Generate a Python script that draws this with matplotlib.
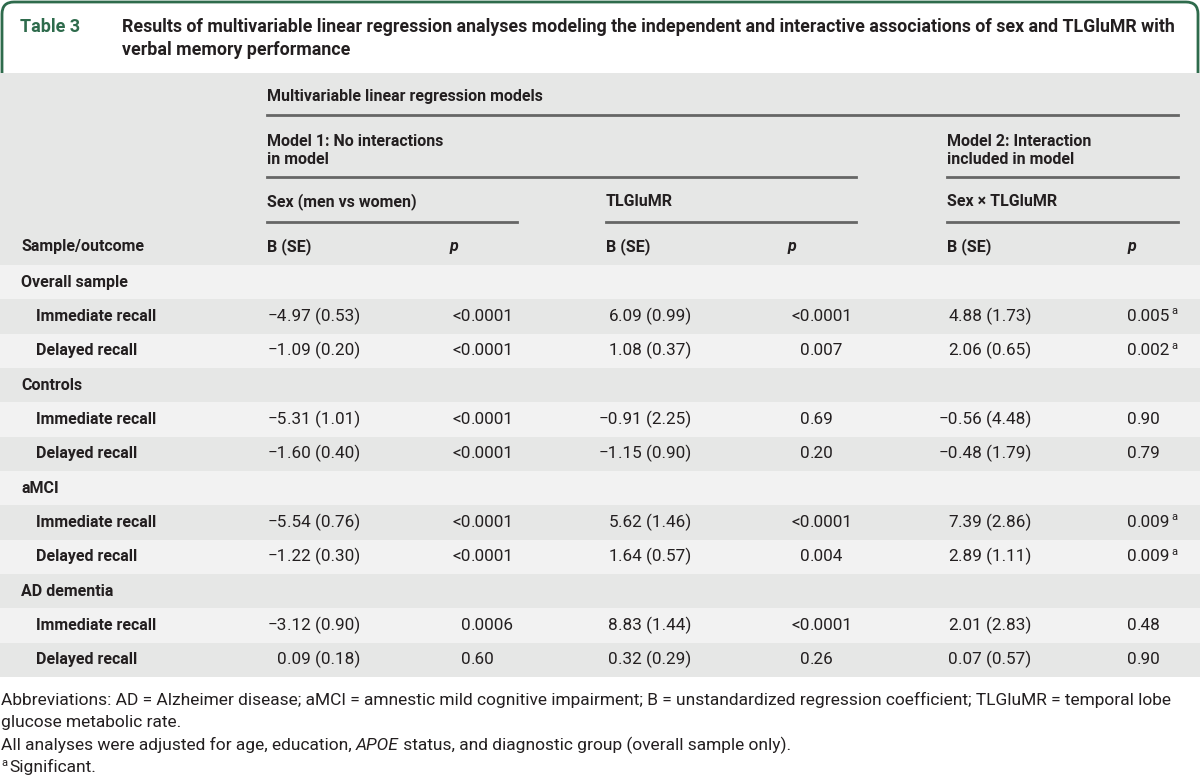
import matplotlib
matplotlib.use("Agg")
import matplotlib.pyplot as plt
from matplotlib.patches import Rectangle, FancyBboxPatch

plt.rcParams['font.family'] = ['Roboto', 'DejaVu Sans']

# ---- data ----
title_num = "Table 3"
title_lines = ["Results of multivariable linear regression analyses modeling the independent and interactive associations of sex and TLGluMR with",
               "verbal memory performance"]

row_labels = ["Overall sample", "Immediate recall", "Delayed recall",
              "Controls", "Immediate recall", "Delayed recall",
              "aMCI", "Immediate recall", "Delayed recall",
              "AD dementia", "Immediate recall", "Delayed recall"]
is_group = [True, False, False] * 4

sex_b = ["", "\u22124.97 (0.53)", "\u22121.09 (0.20)", "", "\u22125.31 (1.01)", "\u22121.60 (0.40)",
         "", "\u22125.54 (0.76)", "\u22121.22 (0.30)", "", "\u22123.12 (0.90)", "0.09 (0.18)"]
sex_p = ["", "<0.0001", "<0.0001", "", "<0.0001", "<0.0001",
         "", "<0.0001", "<0.0001", "", "0.0006", "0.60"]
tl_b = ["", "6.09 (0.99)", "1.08 (0.37)", "", "\u22120.91 (2.25)", "\u22121.15 (0.90)",
        "", "5.62 (1.46)", "1.64 (0.57)", "", "8.83 (1.44)", "0.32 (0.29)"]
tl_p = ["", "<0.0001", "0.007", "", "0.69", "0.20",
        "", "<0.0001", "0.004", "", "<0.0001", "0.26"]
int_b = ["", "4.88 (1.73)", "2.06 (0.65)", "", "\u22120.56 (4.48)", "\u22120.48 (1.79)",
         "", "7.39 (2.86)", "2.89 (1.11)", "", "2.01 (2.83)", "0.07 (0.57)"]
int_p = ["", "0.005", "0.002", "", "0.90", "0.79",
         "", "0.009", "0.009", "", "0.48", "0.90"]
int_sig = [False, True, True, False, False, False, False, True, True, False, False, False]

foot1 = "Abbreviations: AD = Alzheimer disease; aMCI = amnestic mild cognitive impairment; B = unstandardized regression coefficient; TLGluMR = temporal lobe"
foot2 = "glucose metabolic rate."
foot3 = [("All analyses were adjusted for age, education, ", "normal"), ("APOE", "italic"),
         (" status, and diagnostic group (overall sample only).", "normal")]
foot4 = "Significant."

# ---- layout ----
W, H = 1200, 782
fig = plt.figure(figsize=(12, 7.82), dpi=100)
ax = fig.add_axes([0, 0, 1, 1])
ax.set_xlim(0, W)
ax.set_ylim(H, 0)
ax.axis("off")

green = "#2e6b4c"
txt = "#231f20"
hdr_bg = "#e6e7e6"
light_bg = "#f2f2f2"
rule = "#666666"
fs_lab = 11.5   # labels / headers
fs_num = 12.3   # numbers
fs_foot = 12.55

# title box
ax.add_patch(FancyBboxPatch((2, 2), W - 4, 110, boxstyle="round,pad=0,rounding_size=12",
                            fc="white", ec=green, lw=2, zorder=1))
ax.text(20, 27, title_num, color=green, fontsize=13, fontweight="semibold", va="center")
for i, line in enumerate(title_lines):
    ax.text(122, 27 + 23 * i, line, color=txt, fontsize=12.8, fontweight="bold", va="center")

# table background
top, hdr_bot, row_h = 73, 265, 34.33
ax.add_patch(Rectangle((0, top), W, hdr_bot - top, fc=hdr_bg, ec="none", zorder=2))
for i in range(len(row_labels)):
    c = light_bg if i % 2 == 0 else hdr_bg
    ax.add_patch(Rectangle((0, hdr_bot + i * row_h), W, row_h, fc=c, ec="none", zorder=2))

# header texts
hw = "semibold"
ax.text(267, 97, "Multivariable linear regression models", fontsize=fs_lab, fontweight=hw, color=txt, va="center", zorder=3)
ax.plot([267, 1178], [115, 115], color=rule, lw=2, zorder=3)
ax.text(267, 150.5, "Model 1: No interactions\nin model", fontsize=fs_lab, fontweight=hw, color=txt,
        va="center", linespacing=1.3, zorder=3)
ax.text(947, 150.5, "Model 2: Interaction\nincluded in model", fontsize=fs_lab, fontweight=hw, color=txt,
        va="center", linespacing=1.3, zorder=3)
ax.plot([267, 856], [177, 177], color=rule, lw=2, zorder=3)
ax.plot([947, 1178], [177, 177], color=rule, lw=2, zorder=3)
ax.text(267, 202, "Sex (men vs women)", fontsize=fs_lab, fontweight=hw, color=txt, va="center", zorder=3)
ax.text(606, 202, "TLGluMR", fontsize=fs_lab, fontweight=hw, color=txt, va="center", zorder=3)
ax.text(947, 202, "Sex \u00d7 TLGluMR", fontsize=fs_lab, fontweight=hw, color=txt, va="center", zorder=3)
for x0, x1 in [(267, 517), (606, 856), (947, 1178)]:
    ax.plot([x0, x1], [222, 222], color=rule, lw=2, zorder=3)
ax.text(21, 247, "Sample/outcome", fontsize=fs_lab, fontweight=hw, color=txt, va="center", zorder=3)
for x in [267, 606, 947]:
    ax.text(x, 247, "B (SE)", fontsize=fs_lab, fontweight=hw, color=txt, va="center", zorder=3)
for x in [450, 788, 1128]:
    ax.text(x, 247, "p", fontsize=fs_lab, fontweight=hw, style="italic", color=txt, va="center", zorder=3)

fig.canvas.draw()
r = fig.canvas.get_renderer()
inv = ax.transData.inverted()


def right_edge(t):
    bb = t.get_window_extent(renderer=r)
    return inv.transform((bb.x1, bb.y0))[0]


def dec_text(x, y, s):
    # align on the decimal point
    if not s:
        return None
    k = s.index(".")
    ax.text(x, y, s[:k], fontsize=fs_num, color=txt, ha="right", va="center", zorder=3)
    return ax.text(x, y, s[k:], fontsize=fs_num, color=txt, ha="left", va="center", zorder=3)


cols = [(sex_b, 287), (sex_p, 471), (tl_b, 618), (tl_p, 810), (int_b, 958), (int_p, 1137)]
for i, lab in enumerate(row_labels):
    y = hdr_bot + (i + 0.5) * row_h
    ax.text(21 if is_group[i] else 36, y, lab, fontsize=fs_lab, fontweight=hw, color=txt, va="center", zorder=3)
    last = None
    for vals, x in cols:
        last = dec_text(x, y, vals[i])
    if int_sig[i]:
        ax.text(right_edge(last) + 1, y - 5, "a", fontsize=8, color=txt, ha="left", va="center", zorder=3)

# footnotes
ax.text(1, 700, foot1, fontsize=fs_foot, color=txt, va="center")
ax.text(1, 722, foot2, fontsize=fs_foot, color=txt, va="center")
x = 1
for s, st in foot3:
    t = ax.text(x, 745, s, fontsize=fs_foot, color=txt, va="center", style=st)
    x = right_edge(t)
ax.text(1, 763, "a", fontsize=8, color=txt, va="center")
ax.text(9, 767, foot4, fontsize=fs_foot, color=txt, va="center")

fig.savefig("out.png", dpi=100)
